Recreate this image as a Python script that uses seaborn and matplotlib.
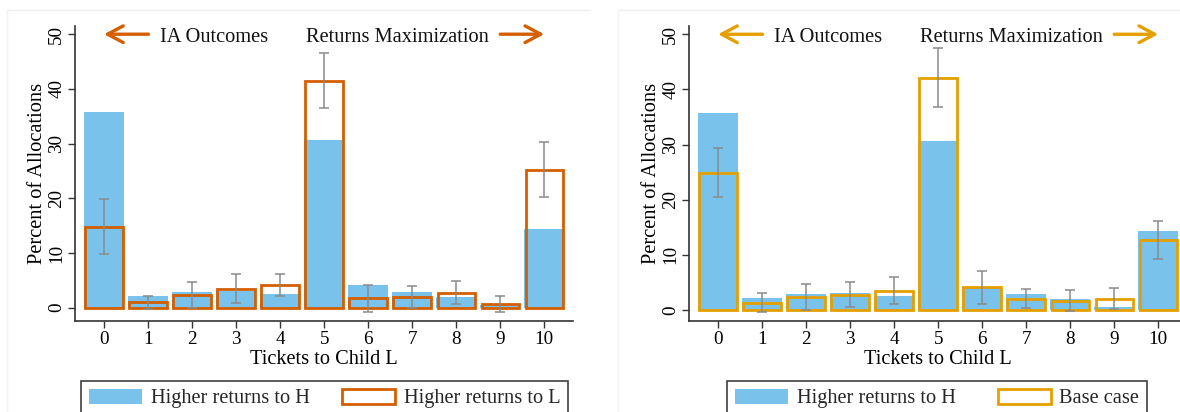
import numpy as np
import matplotlib
matplotlib.use("Agg")
import matplotlib.pyplot as plt
import seaborn as sns
from matplotlib.patches import Patch
from matplotlib.lines import Line2D

# ---------------- data ----------------
tickets = list(range(11))
higher_H = [35.7, 2.1, 2.85, 3.1, 2.5, 30.6, 4.2, 2.85, 1.9, 0.5, 14.3]

higher_L = [14.8, 1.0, 2.35, 3.4, 4.1, 41.5, 1.7, 2.0, 2.7, 0.7, 25.2]
higher_L_lo = [9.8, -0.2, 0.0, 0.8, 2.1, 36.5, -0.7, 0.0, 0.7, -0.7, 20.2]
higher_L_hi = [19.9, 2.2, 4.7, 6.1, 6.2, 46.6, 4.2, 4.0, 4.8, 2.1, 30.3]

base_case = [24.9, 1.3, 2.4, 2.75, 3.4, 42.1, 4.1, 2.0, 1.7, 2.0, 12.75]
base_lo = [20.4, -0.4, 0.0, 0.5, 1.0, 36.9, 1.1, 0.3, -0.2, 0.2, 9.3]
base_hi = [29.4, 3.0, 4.8, 5.0, 5.9, 47.5, 7.1, 3.8, 3.6, 3.9, 16.2]

yticks = [0, 10, 20, 30, 40, 50]
label_H = "Higher returns to H"
label_L = "Higher returns to L"
label_base = "Base case"
xlabel = "Tickets to Child L"
ylabel = "Percent of Allocations"
left_note = "IA Outcomes"
right_note = "Returns Maximization"

# ---------------- style ----------------
sns.set_theme(style="ticks")
plt.rcParams["font.family"] = ["Liberation Serif", "DejaVu Serif"]
plt.rcParams["axes.edgecolor"] = "#333333"
plt.rcParams["xtick.color"] = "#333333"
plt.rcParams["ytick.color"] = "#333333"

BLUE = "#78C2EC"
ORANGE_L = "#D55E00"
ORANGE_B = "#E69F00"
GREY = "#8a8a8a"
FS = 14.7
TFS = 13.8

W, H = 1180, 412
fig = plt.figure(figsize=(W / 100, H / 100), dpi=100)
fig.patch.set_facecolor("white")

# faint panel frames
for (x0, x1) in [(7, 590), (618, 1180)]:
    fig.add_artist(Line2D([x0 / W, x1 / W], [1 - 10 / H] * 2, color="#efefef", lw=1))
    fig.add_artist(Line2D([x0 / W, x0 / W], [0, 1 - 10 / H], color="#f3f3f3", lw=1))

ax_w = 498.3 / W
ax_b = 1 - 321 / H
ax_h = (321 - 26) / H
axL = fig.add_axes([75 / W, ax_b, ax_w, ax_h])
axR = fig.add_axes([689 / W, ax_b, ax_w, ax_h])


def panel(ax, vals, lo, hi, color, ylim, leg_label, leg_x0, leg_x1):
    sns.barplot(x=tickets, y=higher_H, color=BLUE, saturation=1, width=0.91,
                errorbar=None, ax=ax, linewidth=0)
    sns.barplot(x=tickets, y=vals, color=color, saturation=1, width=0.85,
                errorbar=None, ax=ax, fill=False, linewidth=2.0)
    for p in ax.patches[len(tickets):]:
        p.set_edgecolor(color)
        p.set_facecolor("none")
        p.set_linewidth(2.0)
    v = np.array(vals)
    ax.errorbar(np.arange(len(tickets)), v,
                yerr=[v - np.array(lo), np.array(hi) - v],
                fmt="none", ecolor=GREY, elinewidth=1.1, capsize=3.8,
                capthick=1.1, zorder=5)
    ax.set_xlim(-0.66, 10.66)
    ax.set_ylim(*ylim)
    ax.set_yticks(yticks)
    ax.set_yticklabels([str(t) for t in yticks], rotation=90, va="center")
    ax.set_xticks(range(len(tickets)))
    ax.set_xticklabels([str(t) for t in tickets])
    ax.tick_params(axis="both", labelsize=TFS, length=5, width=1, pad=2,
                   labelcolor="black")
    for s in ["top", "right"]:
        ax.spines[s].set_visible(False)
    for s in ["left", "bottom"]:
        ax.spines[s].set_linewidth(1.2)
    ax.set_xlabel(xlabel, fontsize=FS, color="black")
    ax.set_ylabel(ylabel, fontsize=FS, color="black")
    ax.xaxis.set_label_coords(0.5, -0.10)
    ax.yaxis.set_label_coords(-0.056, 0.5)

    arrow = dict(arrowstyle="->,head_length=0.75,head_width=0.4", color=color,
                 lw=2.4, mutation_scale=15, shrinkA=0, shrinkB=0)
    ax.annotate("", xy=(0, 50), xytext=(1.01, 50), arrowprops=arrow, zorder=6)
    ax.annotate("", xy=(10, 50), xytext=(9.0, 50), arrowprops=arrow, zorder=6)
    ax.text(1.27, 48.6, left_note, fontsize=FS, ha="left", va="baseline", color="#111111")
    ax.text(8.74, 48.6, right_note, fontsize=FS, ha="right", va="baseline", color="#111111")

    handles = [Patch(facecolor=BLUE, edgecolor="none"),
               Patch(facecolor="white", edgecolor=color, linewidth=2.0)]
    leg = fig.legend(handles, [label_H, leg_label], ncol=2, loc="upper left",
                     bbox_to_anchor=(leg_x0 / W, 0, (leg_x1 - leg_x0) / W, 1 - 380.7 / H),
                     mode="expand", frameon=True, fancybox=False, fontsize=FS,
                     handlelength=2.6, handleheight=0.75, handletextpad=0.42,
                     borderpad=0.4, borderaxespad=0, columnspacing=1.0)
    leg.get_frame().set_edgecolor("#404040")
    leg.get_frame().set_linewidth(1.2)
    leg.get_frame().set_alpha(1)


panel(axL, higher_L, higher_L_lo, higher_L_hi, ORANGE_L, (-2.43, 51.5), label_L, 80.7, 568.3)
panel(axR, base_case, base_lo, base_hi, ORANGE_B, (-2.0, 51.5), label_base, 726.7, 1147.3)

fig.savefig("out.png", dpi=100, facecolor="white")
